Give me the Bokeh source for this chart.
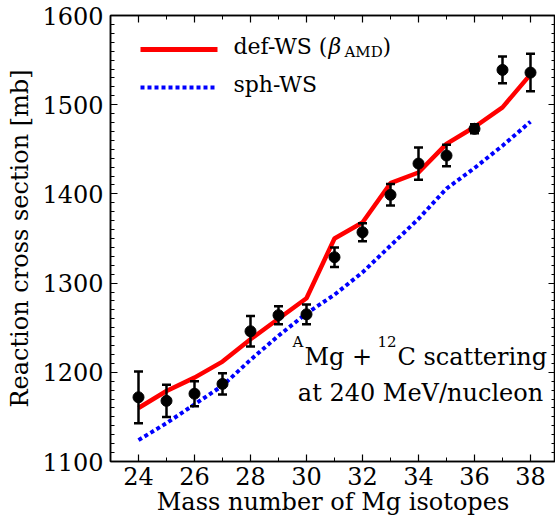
from bokeh.plotting import figure
from bokeh.models import (ColumnDataSource, Whisker, TeeHead, Label, Arrow, LinearAxis,
                          FixedTicker, CustomJSTickFormatter, Range1d)
from bokeh.embed import file_html
from bokeh.resources import INLINE

# ---------------- data ----------------
mass_number = [24, 25, 26, 27, 28, 29, 30, 31, 32, 33, 34, 35, 36, 37, 38]
sigma_exp = [1172, 1168, 1176, 1187, 1246, 1264, 1265, 1329, 1357, 1399, 1434, 1443, 1473, 1539, 1536]
sigma_err = [29, 18, 14, 12, 17, 10, 11, 11, 10, 12, 18, 12, 5, 15, 21]
def_ws = [1160, 1179, 1194, 1212, 1237, 1260, 1283, 1350, 1368, 1412, 1424, 1456, 1475, 1497, 1534]
sph_ws = [1124, 1143, 1164, 1185, 1214, 1241, 1266, 1287, 1312, 1342, 1372, 1406, 1429, 1454, 1481]
x_ticks = [24, 26, 28, 30, 32, 34, 36, 38]
y_ticks = [1100, 1200, 1300, 1400, 1500, 1600]

# ---------------- layout ----------------
W, H = 555, 524
FL, FR, FT, FB = 110, 555, 15, 461
PX_PER_UNIT = 28.0
X0 = 23.0
X1 = X0 + (FR - FL) / PX_PER_UNIT
Y0, Y1 = 1100, 1600

def xd(px):
    return X0 + (px - FL) * (X1 - X0) / (FR - FL)

def yd(py):
    return Y1 - (py - FT) * (Y1 - Y0) / (FB - FT)

FONT = "DejaVu Serif"

p = figure(width=W, height=H, x_range=Range1d(X0, X1), y_range=Range1d(Y0, Y1),
           output_backend="svg", toolbar_location=None,
           min_border_left=FL, min_border_right=0, min_border_top=FT,
           min_border_bottom=H - FB)
p.grid.visible = False
p.outline_line_color = "black"
p.outline_line_width = 1.5
p.background_fill_color = "white"
p.border_fill_color = "white"

xt = FixedTicker(ticks=x_ticks, minor_ticks=list(range(23, 40)))
yt = FixedTicker(ticks=y_ticks, minor_ticks=list(range(1100, 1601, 10)))

def style_axis(ax):
    ax.axis_line_color = "black"
    ax.axis_line_width = 1.5
    ax.major_tick_in = 7
    ax.major_tick_out = 0
    ax.minor_tick_in = 4
    ax.minor_tick_out = 0
    ax.major_tick_line_width = 1.2
    ax.minor_tick_line_width = 1
    ax.major_tick_line_color = "black"
    ax.minor_tick_line_color = "black"
    ax.major_label_text_font = FONT
    ax.major_label_text_font_size = "24px"
    ax.major_label_text_color = "black"
    ax.axis_label_text_font = FONT
    ax.axis_label_text_font_size = "24px"
    ax.axis_label_text_font_style = "normal"
    ax.axis_label_text_color = "black"

xa = p.xaxis[0]
ya = p.yaxis[0]
xa.ticker = xt
ya.ticker = yt
style_axis(xa)
style_axis(ya)
xa.axis_label = "Mass number of Mg isotopes"
ya.axis_label = "Reaction cross section [mb]"
xa.major_label_standoff = 5
xa.axis_label_standoff = 0
ya.major_label_standoff = 7
ya.axis_label_standoff = 5

blank = CustomJSTickFormatter(code="return ''")
top = LinearAxis(ticker=xt, formatter=blank)
right = LinearAxis(ticker=yt, formatter=blank)
for ax in (top, right):
    style_axis(ax)
    ax.major_label_text_font_size = "1px"
    ax.major_label_standoff = 0
p.add_layout(top, "above")
p.add_layout(right, "right")

# ---------------- glyphs ----------------
src = ColumnDataSource(dict(
    x=mass_number, y=sigma_exp,
    lower=[v - e for v, e in zip(sigma_exp, sigma_err)],
    upper=[v + e for v, e in zip(sigma_exp, sigma_err)],
    d=def_ws, s=sph_ws))

p.line("x", "s", source=src, line_color="#0000ff", line_width=4, line_dash="4 3")
p.line("x", "d", source=src, line_color="#ff0000", line_width=4.5)

wh = Whisker(source=src, base="x", upper="upper", lower="lower",
             line_color="black", line_width=2.5, level="overlay",
             upper_head=TeeHead(size=9, line_width=2.5, line_color="black"),
             lower_head=TeeHead(size=9, line_width=2.5, line_color="black"))
p.add_layout(wh)
p.scatter("x", "y", source=src, size=11, color="black", level="overlay")

# ---------------- legend ----------------
p.add_layout(Arrow(end=None, x_start=xd(140), y_start=yd(49), x_end=xd(217), y_end=yd(49),
                   line_color="#ff0000", line_width=5))
p.add_layout(Arrow(end=None, x_start=xd(140), y_start=yd(87), x_end=xd(217), y_end=yd(87),
                   line_color="#0000ff", line_width=4, line_dash="4 3"))

def lab(text, px, py, size, style="normal", align="left"):
    p.add_layout(Label(x=xd(px), y=yd(py), text=text, text_font=FONT,
                       text_font_size=f"{size}px", text_font_style=style,
                       text_color="black", text_align=align,
                       text_baseline="alphabetic"))

lab("def-WS (", 233, 46, 22)
lab("β", 328, 46, 22, style="italic")
lab("AMD", 344, 51, 15)
lab(")", 382, 46, 22)
lab("sph-WS", 233, 84, 22)

# ---------------- annotation ----------------
lab("A", 292, 341, 15)
lab("Mg +", 304, 356, 24)
lab("12", 377, 341, 15)
lab("C scattering", 397, 356, 24)
lab("at 240 MeV/nucleon", 420, 392, 24, align="center")

open("out.html", "w").write(file_html(p, INLINE))
